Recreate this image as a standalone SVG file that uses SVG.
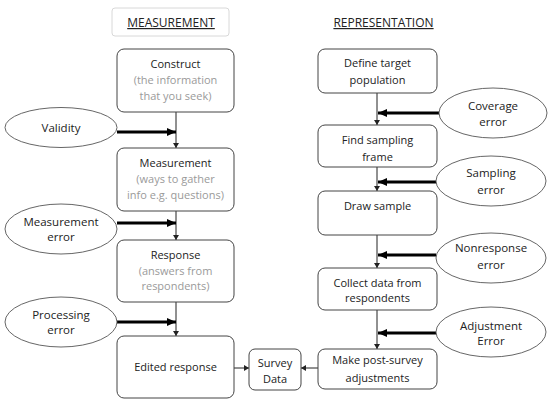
<svg xmlns="http://www.w3.org/2000/svg" width="552" height="406" viewBox="0 0 552 406">
<style>
text{font-family:"Open Sans","Noto Sans","Liberation Sans",sans-serif;font-size:11px;fill:#222;text-anchor:middle}
.g{fill:#9a9a9a}
.e{font-size:11.5px}
.h{font-size:12px;text-decoration:underline}
.box{fill:#fff;stroke:#444;stroke-width:1}
.ell{fill:#fff;stroke:#555;stroke-width:0.9}
.thin{stroke:#222;stroke-width:1;fill:none}
.thick{stroke:#000;stroke-width:3;fill:none}
</style>
<defs>
<marker id="ah" markerUnits="userSpaceOnUse" markerWidth="6" markerHeight="6" refX="5" refY="3" orient="auto">
<path d="M0,0 L5,3 L0,6 z" fill="#222"/>
</marker>
<marker id="ahb" markerUnits="userSpaceOnUse" markerWidth="10" markerHeight="8" refX="9" refY="4" orient="auto">
<path d="M0,0 L9,4 L0,8 z" fill="#000"/>
</marker>
</defs>
<rect width="552" height="406" fill="#fff"/>

<g id="header-measurement">
<rect x="112" y="8" width="117" height="28" rx="3" fill="#fff" stroke="#d8d8d8"/>
<text class="h" x="171" y="27">MEASUREMENT</text>
</g>
<g id="header-representation">
<text class="h" x="383.5" y="27">REPRESENTATION</text>
</g>

<g id="connectors">
<line class="thin" x1="176" y1="112" x2="176" y2="148" marker-end="url(#ah)"/>
<line class="thin" x1="176" y1="211" x2="176" y2="240" marker-end="url(#ah)"/>
<line class="thin" x1="176" y1="302" x2="176" y2="336" marker-end="url(#ah)"/>
<line class="thin" x1="377" y1="93" x2="377" y2="125" marker-end="url(#ah)"/>
<line class="thin" x1="377" y1="167" x2="377" y2="191" marker-end="url(#ah)"/>
<line class="thin" x1="377" y1="235" x2="377" y2="268" marker-end="url(#ah)"/>
<line class="thin" x1="377" y1="310" x2="377" y2="349" marker-end="url(#ah)"/>
<line class="thin" x1="234" y1="368" x2="249" y2="368" marker-end="url(#ah)"/>
<line class="thin" x1="318" y1="368" x2="301" y2="368" marker-end="url(#ah)"/>
<line class="thick" x1="117" y1="132" x2="176" y2="132" marker-end="url(#ahb)"/>
<line class="thick" x1="117" y1="223" x2="176" y2="223" marker-end="url(#ahb)"/>
<line class="thick" x1="117" y1="322" x2="176" y2="322" marker-end="url(#ahb)"/>
<line class="thick" x1="439" y1="113" x2="378" y2="113" marker-end="url(#ahb)"/>
<line class="thick" x1="436" y1="182" x2="378" y2="182" marker-end="url(#ahb)"/>
<line class="thick" x1="436" y1="255" x2="378" y2="255" marker-end="url(#ahb)"/>
<line class="thick" x1="436" y1="333" x2="378" y2="333" marker-end="url(#ahb)"/>
</g>

<g id="construct">
<rect class="box" x="117" y="49" width="117" height="63" rx="7"/>
<text x="175.5" y="68">Construct</text>
<text class="g" x="175.5" y="84">(the information</text>
<text class="g" x="175.5" y="100">that you seek)</text>
</g>
<g id="measurement">
<rect class="box" x="117" y="148" width="117" height="63" rx="7"/>
<text x="175.5" y="167">Measurement</text>
<text class="g" x="175.5" y="183">(ways to gather</text>
<text class="g" x="175.5" y="199">info e.g. questions)</text>
</g>
<g id="response">
<rect class="box" x="117" y="240" width="117" height="62" rx="7" stroke="#666"/>
<text x="175.5" y="259">Response</text>
<text class="g" x="175.5" y="275">(answers from</text>
<text class="g" x="175.5" y="290">respondents)</text>
</g>
<g id="edited-response">
<rect class="box" x="117" y="336" width="117" height="62" rx="7"/>
<text x="175.5" y="371">Edited response</text>
</g>
<g id="survey-data">
<rect class="box" x="249" y="349" width="52" height="41" rx="6"/>
<text x="275" y="367">Survey</text>
<text x="275" y="383">Data</text>
</g>

<g id="define-target">
<rect class="box" x="318" y="49" width="119" height="44" rx="7"/>
<text x="377.5" y="67">Define target</text>
<text x="377.5" y="84">population</text>
</g>
<g id="find-frame">
<rect class="box" x="318" y="125" width="119" height="42" rx="7" stroke="#666"/>
<text x="377.5" y="144">Find sampling</text>
<text x="377.5" y="161">frame</text>
</g>
<g id="draw-sample">
<rect class="box" x="318" y="191" width="119" height="44" rx="7"/>
<text x="377.5" y="210">Draw sample</text>
</g>
<g id="collect-data">
<rect class="box" x="318" y="268" width="119" height="42" rx="7"/>
<text x="377.5" y="287">Collect data from</text>
<text x="377.5" y="302">respondents</text>
</g>
<g id="post-survey">
<rect class="box" x="318" y="349" width="119" height="40" rx="7"/>
<text x="377.5" y="364">Make post-survey</text>
<text x="377.5" y="382">adjustments</text>
</g>

<g id="validity">
<ellipse class="ell" cx="61" cy="127.5" rx="56" ry="20"/>
<text class="e" x="61" y="132">Validity</text>
</g>
<g id="measurement-error">
<ellipse class="ell" cx="61" cy="229" rx="56" ry="25"/>
<text class="e" x="61" y="226">Measurement</text>
<text class="e" x="61" y="241">error</text>
</g>
<g id="processing-error">
<ellipse class="ell" cx="61" cy="322" rx="56" ry="25"/>
<text class="e" x="61" y="319">Processing</text>
<text class="e" x="61" y="334">error</text>
</g>
<g id="coverage-error">
<ellipse class="ell" cx="493" cy="113" rx="54" ry="25"/>
<text class="e" x="493" y="110">Coverage</text>
<text class="e" x="493" y="126">error</text>
</g>
<g id="sampling-error">
<ellipse class="ell" cx="491" cy="181" rx="55" ry="25"/>
<text class="e" x="491" y="177">Sampling</text>
<text class="e" x="491" y="194">error</text>
</g>
<g id="nonresponse-error">
<ellipse class="ell" cx="491" cy="258" rx="55" ry="25"/>
<text class="e" x="491" y="252">Nonresponse</text>
<text class="e" x="491" y="269">error</text>
</g>
<g id="adjustment-error">
<ellipse class="ell" cx="491" cy="332" rx="55" ry="25"/>
<text class="e" x="491" y="330">Adjustment</text>
<text class="e" x="491" y="345">Error</text>
</g>
</svg>
